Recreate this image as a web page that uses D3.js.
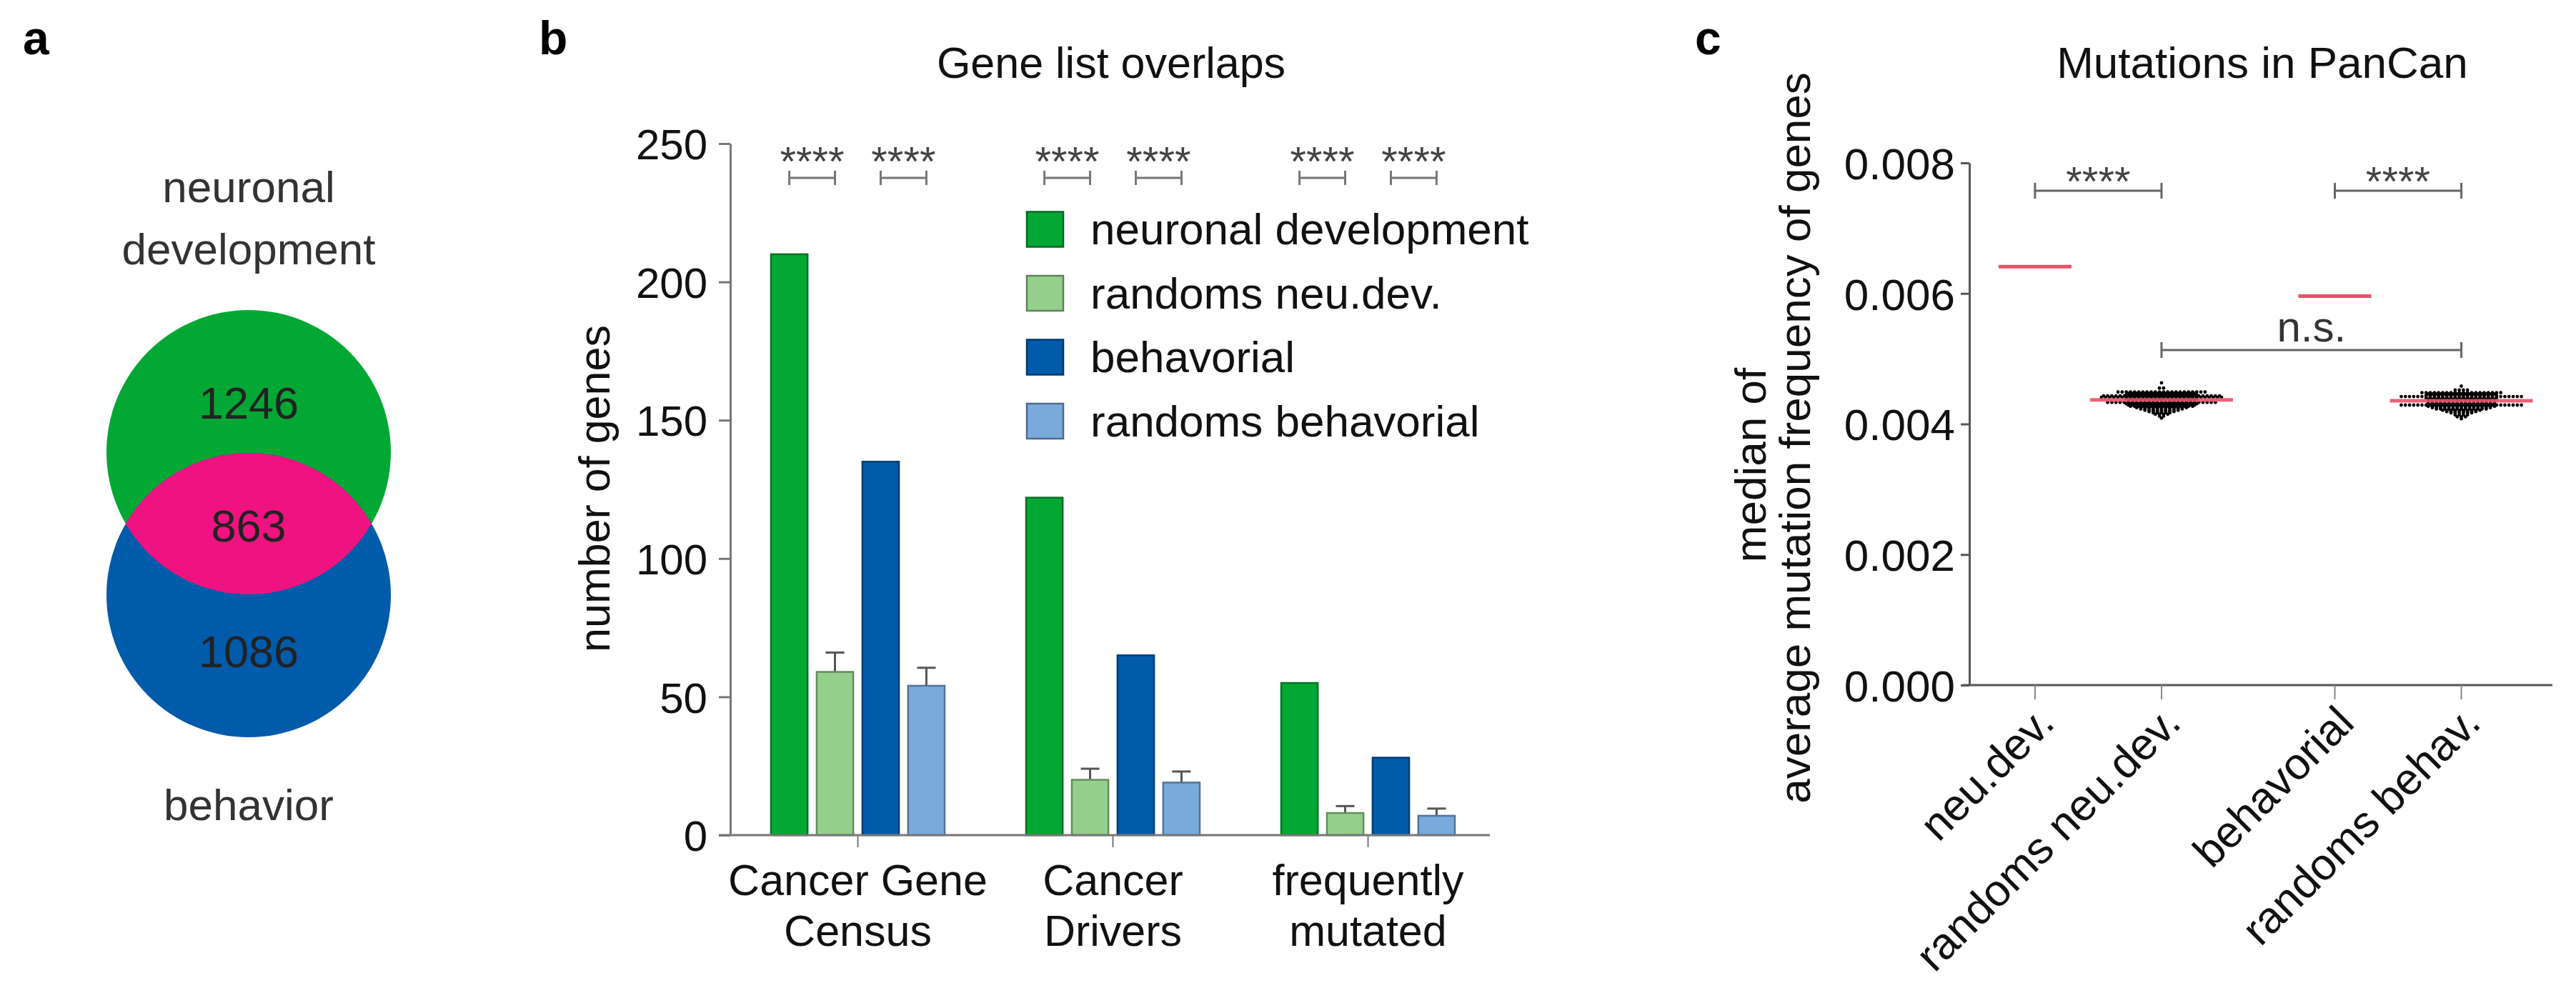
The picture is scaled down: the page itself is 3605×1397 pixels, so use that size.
<!DOCTYPE html>
<html><head><meta charset="utf-8">
<script src="https://cdn.jsdelivr.net/npm/d3@7"></script>
<style>
body{margin:0;background:#fff}
text{font-family:Arial,"Liberation Sans",Helvetica,sans-serif}
</style>
</head><body>
<svg id="fig" width="3605" height="1397"></svg>
<script>
// ---------------- Panel a data ----------------
const vennTopLabel = ["neuronal", "development"];
const vennBottomLabel = "behavior";
const vennCounts = [1246, 863, 1086]; // only neu.dev., overlap, only behavior

// ---------------- Panel b data ----------------
const categoriesB = [["Cancer Gene", "Census"], ["Cancer", "Drivers"], ["frequently", "mutated"]];
const seriesNames = ["neuronal development", "randoms neu.dev.", "behavorial", "randoms behavorial"];
const seriesColors = ["#03a834", "#95cf8c", "#005baa", "#7aaadc"];
const neuDevCounts = [210, 122, 55];
const randNeuDevCounts = [59, 20, 8];
const randNeuDevErr = [7, 4, 2.5];
const behavCounts = [135, 65, 28];
const randBehavCounts = [54, 19, 7];
const randBehavErr = [6.5, 4, 2.6];
const yTicksB = [0, 50, 100, 150, 200, 250];
const sigB = ["****", "****", "****", "****", "****", "****"];

// ---------------- Panel c data ----------------
const groupsC = ["neu.dev.", "randoms neu.dev.", "behavorial", "randoms behav."];
const singleValuesC = [0.00641, null, 0.00596, null];
const medianValuesC = [null, 0.00437, null, 0.004355];
// random gene-set distributions: [value x 1e-6, number of sets at that level]
const randNeuDevDist = [[4630,1],[4550,2],[4490,22],[4470,17],[4450,18],[4430,29],[4410,30],[4390,18],[4370,17],[4350,17],[4330,27],[4310,18],[4290,17],[4270,16],[4250,13],[4230,11],[4210,9],[4190,7],[4170,5],[4150,4],[4120,2],[4090,1]];
const randBehavDist = [[4580,1],[4520,4],[4480,20],[4460,17],[4440,18],[4420,30],[4400,18],[4380,17],[4360,17],[4340,17],[4320,17],[4290,30],[4270,17],[4250,15],[4230,13],[4210,10],[4190,8],[4170,6],[4140,4],[4110,3],[4080,1]];
const yTicksC = [0, 0.002, 0.004, 0.006, 0.008];

const svg = d3.select("#fig");
svg.append("rect").attr("width", 3605).attr("height", 1397).attr("fill", "#fff");

// panel letters
[["a", 32], ["b", 754], ["c", 2372]].forEach(([t, x]) => {
  svg.append("text").attr("x", x).attr("y", 76).attr("font-size", 66)
    .attr("font-weight", "bold").attr("fill", "#000").text(t);
});

// ================= Panel a: Venn =================
(function () {
  const g = svg.append("g");
  const cx = 348, r = 199;
  const yV = d3.scaleLinear().domain([0, 1]).range([633, 833]); // circle centres
  const defs = svg.append("defs");
  defs.append("clipPath").attr("id", "clipGreen")
    .append("circle").attr("cx", cx).attr("cy", yV(0)).attr("r", r);
  g.append("circle").attr("cx", cx).attr("cy", yV(0)).attr("r", r).attr("fill", "#03a834");
  g.append("circle").attr("cx", cx).attr("cy", yV(1)).attr("r", r).attr("fill", "#005baa");
  g.append("circle").attr("cx", cx).attr("cy", yV(1)).attr("r", r).attr("fill", "#ee1380")
    .attr("clip-path", "url(#clipGreen)");
  const numY = [586, 758, 934];
  vennCounts.forEach((v, i) => {
    g.append("text").attr("x", cx).attr("y", numY[i]).attr("text-anchor", "middle")
      .attr("font-size", 63).attr("fill", "#222").text(v);
  });
  vennTopLabel.forEach((t, i) => {
    g.append("text").attr("x", cx).attr("y", 283 + i * 87).attr("text-anchor", "middle")
      .attr("font-size", 62).attr("fill", "#333").text(t);
  });
  g.append("text").attr("x", cx).attr("y", 1148).attr("text-anchor", "middle")
    .attr("font-size", 62).attr("fill", "#333").text(vennBottomLabel);
})();

// ================= Panel b: bars =================
(function () {
  const g = svg.append("g");
  const x0 = d3.scaleBand().domain(d3.range(categoriesB.length)).range([1022, 2093]);
  const x1 = d3.scaleBand().domain(seriesNames).range([-121.5, 121.5]).paddingInner(0.2);
  const y = d3.scaleLinear().domain([0, 250]).range([1169, 201]);
  const axisCol = "#777";

  g.append("text").attr("x", 1555).attr("y", 109).attr("text-anchor", "middle")
    .attr("font-size", 61).attr("fill", "#111").text("Gene list overlaps");

  const ya = g.append("g").attr("transform", "translate(1022,0)")
    .call(d3.axisLeft(y).tickValues(yTicksB).tickSize(16).tickSizeOuter(0).tickPadding(16));
  ya.select(".domain").attr("stroke", axisCol).attr("stroke-width", 3);
  ya.selectAll(".tick line").attr("stroke", axisCol).attr("stroke-width", 3);
  ya.selectAll(".tick text").attr("font-size", 60).attr("fill", "#111").attr("dy", "0.36em")
    .attr("font-family", "Arial, 'Liberation Sans', sans-serif");

  g.append("text").attr("transform", "translate(853,684) rotate(-90)")
    .attr("text-anchor", "middle").attr("font-size", 61).attr("fill", "#111").text("number of genes");

  const data = categoriesB.map((c, i) => [
    { s: seriesNames[0], v: neuDevCounts[i], e: null, c: seriesColors[0] },
    { s: seriesNames[1], v: randNeuDevCounts[i], e: randNeuDevErr[i], c: seriesColors[1] },
    { s: seriesNames[2], v: behavCounts[i], e: null, c: seriesColors[2] },
    { s: seriesNames[3], v: randBehavCounts[i], e: randBehavErr[i], c: seriesColors[3] }
  ]);
  data.forEach((grp, i) => {
    const cxg = x0(i) + x0.bandwidth() / 2;
    grp.forEach(d => {
      const bx = cxg + x1(d.s);
      if (d.e != null) {
        const mx = bx + x1.bandwidth() / 2;
        g.append("line").attr("x1", mx).attr("x2", mx).attr("y1", y(d.v)).attr("y2", y(d.v + d.e))
          .attr("stroke", "#555").attr("stroke-width", 3);
        g.append("line").attr("x1", mx - 13).attr("x2", mx + 13).attr("y1", y(d.v + d.e)).attr("y2", y(d.v + d.e))
          .attr("stroke", "#555").attr("stroke-width", 3);
      }
      g.append("rect").attr("x", bx).attr("y", y(d.v)).attr("width", x1.bandwidth())
        .attr("height", y(0) - y(d.v)).attr("fill", d.c)
        .attr("stroke", d3.color(d.c).darker(1.1)).attr("stroke-width", 2.5);
    });
    [[0, 1], [2, 3]].forEach((pr, k) => {
      const xa = cxg + x1(seriesNames[pr[0]]) + x1.bandwidth() / 2;
      const xb = cxg + x1(seriesNames[pr[1]]) + x1.bandwidth() / 2;
      const by = 249;
      g.append("path").attr("d", `M${xa},${by - 10}V${by + 10}M${xa},${by}H${xb}M${xb},${by - 10}V${by + 10}`)
        .attr("stroke", "#777").attr("stroke-width", 3).attr("fill", "none");
      g.append("text").attr("x", (xa + xb) / 2).attr("y", 246).attr("text-anchor", "middle")
        .attr("font-size", 58).attr("fill", "#444").text(sigB[i * 2 + k]);
    });
  });

  g.append("line").attr("x1", 1006).attr("x2", 2085).attr("y1", 1169).attr("y2", 1169)
    .attr("stroke", axisCol).attr("stroke-width", 3);
  const xa = g.append("g").attr("transform", "translate(0,1169)")
    .call(d3.axisBottom(x0).tickSize(17).tickFormat(""));
  xa.select(".domain").remove();
  xa.selectAll(".tick line").attr("stroke", axisCol).attr("stroke-width", 2);
  categoriesB.forEach((lines, i) => {
    const cxg = x0(i) + x0.bandwidth() / 2;
    lines.forEach((t, j) => {
      g.append("text").attr("x", cxg).attr("y", 1253 + j * 71).attr("text-anchor", "middle")
        .attr("font-size", 61).attr("fill", "#111").text(t);
    });
  });

  seriesNames.forEach((s, i) => {
    const cy = 321 + i * 89.5;
    g.append("rect").attr("x", 1437).attr("y", cy - 24.5).attr("width", 51).attr("height", 49)
      .attr("fill", seriesColors[i]).attr("stroke", d3.color(seriesColors[i]).darker(1.3)).attr("stroke-width", 2.5);
    g.append("text").attr("x", 1526).attr("y", cy + 21).attr("font-size", 62).attr("fill", "#111").text(s);
  });
})();

// ================= Panel c: scatter =================
(function () {
  const g = svg.append("g");
  const groupGap = 0.37;
  const pos = i => i + (i >= 2 ? groupGap : 0);
  const x = d3.scaleLinear().domain([-0.57, 4.09]).range([2747, 3572]);
  const y = d3.scaleLinear().domain([0, 0.008]).range([959, 228]);
  const axisCol = "#555";

  g.append("text").attr("x", 3166).attr("y", 109).attr("text-anchor", "middle")
    .attr("font-size", 62).attr("fill", "#111").text("Mutations in PanCan");

  const ya = g.append("g").attr("transform", "translate(2756,0)")
    .call(d3.axisLeft(y).tickValues(yTicksC).tickFormat(d3.format(".3f")).tickSize(12).tickSizeOuter(0).tickPadding(8));
  ya.select(".domain").attr("stroke", axisCol).attr("stroke-width", 3);
  ya.selectAll(".tick line").attr("stroke", axisCol).attr("stroke-width", 3);
  ya.selectAll(".tick text").attr("font-size", 62).attr("fill", "#111").attr("dy", "0.36em")
    .attr("font-family", "Arial, 'Liberation Sans', sans-serif");

  g.append("text").attr("transform", "translate(2471,651) rotate(-90)")
    .attr("text-anchor", "middle").attr("font-size", 62).attr("fill", "#111").text("median of");
  g.append("text").attr("transform", "translate(2533,613) rotate(-90)")
    .attr("text-anchor", "middle").attr("font-size", 62).attr("fill", "#111").text("average mutation frequency of genes");

  g.append("line").attr("x1", 2747).attr("x2", 3572).attr("y1", 959).attr("y2", 959)
    .attr("stroke", axisCol).attr("stroke-width", 3);
  groupsC.forEach((t, i) => {
    const cx = x(pos(i));
    g.append("line").attr("x1", cx).attr("x2", cx).attr("y1", 959).attr("y2", 979)
      .attr("stroke", "#888").attr("stroke-width", 2);
    g.append("text").attr("transform", `translate(${cx + 30},${959 + 56}) rotate(-45)`)
      .attr("text-anchor", "end").attr("font-size", 62).attr("fill", "#111").text(t);
  });

  const dists = [null, randNeuDevDist, null, randBehavDist];
  dists.forEach((dist, i) => {
    if (!dist) return;
    const cx = x(pos(i));
    dist.forEach(([v, n]) => {
      for (let k = 0; k < n; k++) {
        g.append("circle").attr("cx", cx + (k - (n - 1) / 2) * 5.8).attr("cy", y(v * 1e-6))
          .attr("r", 2.4).attr("fill", "#000");
      }
    });
  });
  groupsC.forEach((t, i) => {
    const cx = x(pos(i));
    if (singleValuesC[i] != null) {
      g.append("line").attr("x1", cx - 51).attr("x2", cx + 51).attr("y1", y(singleValuesC[i])).attr("y2", y(singleValuesC[i]))
        .attr("stroke", "#e8526a").attr("stroke-width", 5);
    }
    if (medianValuesC[i] != null) {
      g.append("line").attr("x1", cx - 100).attr("x2", cx + 100).attr("y1", y(medianValuesC[i])).attr("y2", y(medianValuesC[i]))
        .attr("stroke", "#e8526a").attr("stroke-width", 5).attr("stroke-opacity", 0.9);
    }
  });

  const brackets = [[0, 1, 267, "****"], [2, 3, 267, "****"], [1, 3, 490, "n.s."]];
  brackets.forEach(([a, b, by, lab]) => {
    const xa = x(pos(a)), xb = x(pos(b));
    g.append("path").attr("d", `M${xa},${by - 11}V${by + 11}M${xa},${by}H${xb}M${xb},${by - 11}V${by + 11}`)
      .attr("stroke", "#666").attr("stroke-width", 3).attr("fill", "none");
    if (lab === "n.s.") {
      g.append("text").attr("x", (xa + xb) / 2).attr("y", 478).attr("text-anchor", "middle")
        .attr("font-size", 60).attr("fill", "#333").text(lab);
    } else {
      g.append("text").attr("x", (xa + xb) / 2).attr("y", 274).attr("text-anchor", "middle")
        .attr("font-size", 58).attr("fill", "#444").text(lab);
    }
  });
})();
</script>
</body></html>
